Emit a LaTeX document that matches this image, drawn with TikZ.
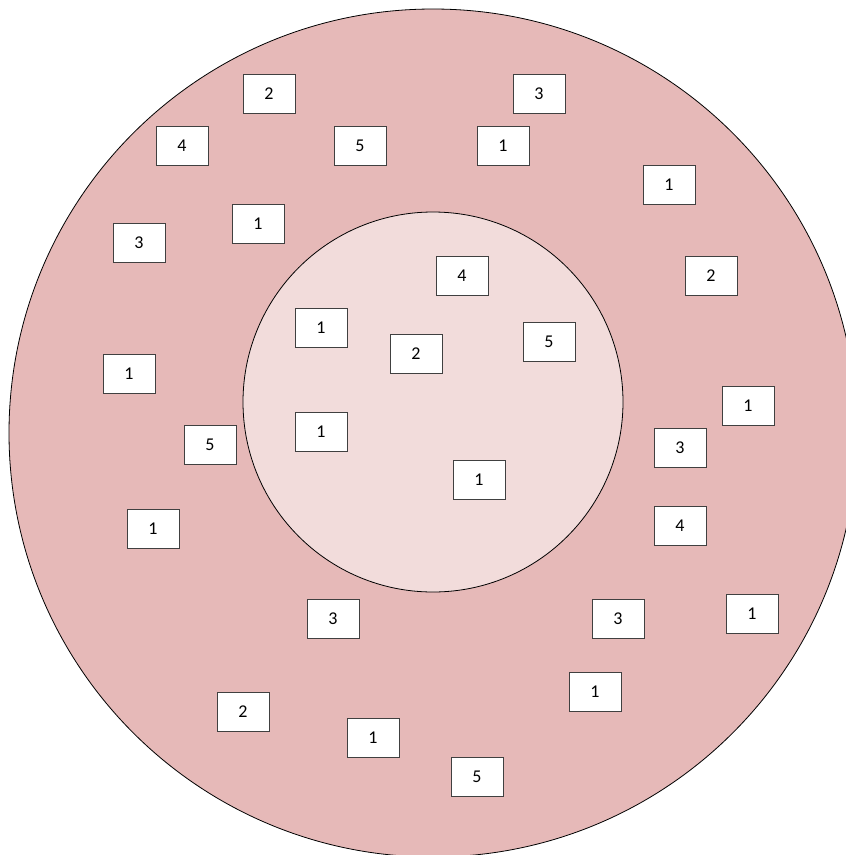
\documentclass[tikz,border=0pt]{standalone}
\usepackage{fontspec}
\setmainfont{Carlito}
\definecolor{outerpink}{HTML}{E6B9B8}
\definecolor{innerpink}{HTML}{F2DCDB}
\definecolor{boxline}{HTML}{404040}
\begin{document}
\begin{tikzpicture}[x=1pt,y=-1pt,
  numbox/.style={draw=boxline,line width=0.9pt,fill=white,minimum width=52pt,minimum height=39pt,inner sep=0pt,font=\fontsize{18}{18}\selectfont}]
\useasboundingbox (0,0) rectangle (846,855);
\begin{scope}
\clip (0,0) rectangle (846,855);
\node[circle,draw=black,line width=0.8pt,fill=outerpink,minimum size=848pt,inner sep=0pt] (outer) at (433,433) {};
\end{scope}
\node[circle,draw=black,line width=0.8pt,fill=innerpink,minimum size=380pt,inner sep=0pt] (inner) at (433,402) {};
\node[numbox] (b1) at (269,94) {2};
\node[numbox] (b2) at (539,94) {3};
\node[numbox] (b3) at (182,146) {4};
\node[numbox] (b4) at (360,146) {5};
\node[numbox] (b5) at (503,146) {1};
\node[numbox] (b6) at (669,185) {1};
\node[numbox] (b7) at (139,243) {3};
\node[numbox] (b8) at (258,224) {1};
\node[numbox] (b9) at (711,276) {2};
\node[numbox] (b10) at (462,276) {4};
\node[numbox] (b11) at (321,328) {1};
\node[numbox] (b12) at (416,354) {2};
\node[numbox] (b13) at (549,342) {5};
\node[numbox] (b14) at (129,374) {1};
\node[numbox] (b15) at (748,406) {1};
\node[numbox] (b16) at (210,445) {5};
\node[numbox] (b17) at (321,432) {1};
\node[numbox] (b18) at (680,448) {3};
\node[numbox] (b19) at (479,480) {1};
\node[numbox] (b20) at (153,529) {1};
\node[numbox] (b21) at (680,526) {4};
\node[numbox] (b22) at (333,619) {3};
\node[numbox] (b23) at (618,619) {3};
\node[numbox] (b24) at (752,614) {1};
\node[numbox] (b25) at (595,692) {1};
\node[numbox] (b26) at (243,712) {2};
\node[numbox] (b27) at (373,738) {1};
\node[numbox] (b28) at (477,777) {5};
\end{tikzpicture}
\end{document}
